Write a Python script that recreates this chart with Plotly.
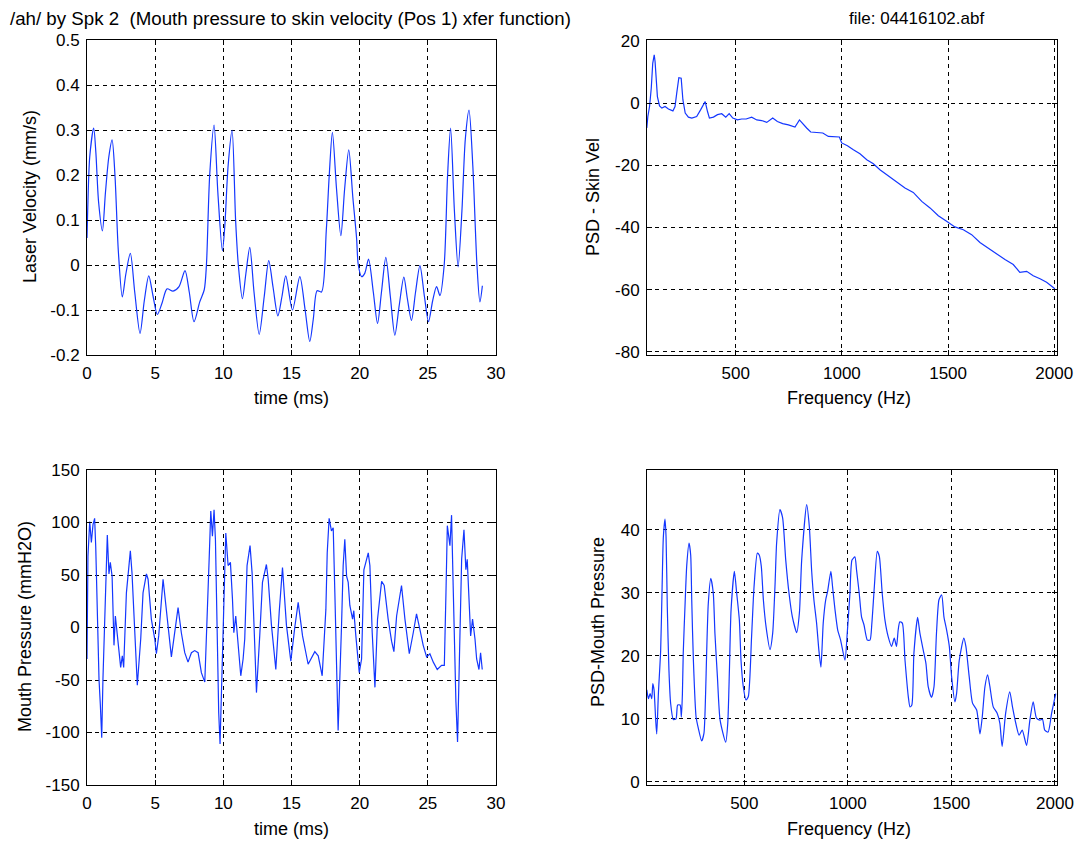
import plotly.graph_objects as go

# ---- Laser velocity vs time (top-left) ----
vel_time_ms = [0.00, 0.05, 0.20, 0.49, 0.65, 0.85, 1.13, 1.35, 1.60, 1.84, 2.05, 2.30, 2.59, 2.85,
               3.18, 3.50, 3.89, 4.20, 4.53, 4.85, 5.16, 5.50, 5.87, 6.31, 6.75, 7.19, 7.50, 7.85,
               8.27, 8.60, 8.76, 9.00, 9.32, 9.60, 9.93, 10.10, 10.35, 10.64, 10.90, 11.10, 11.40,
               11.65, 11.94, 12.25, 12.63, 13.00, 13.33, 13.65, 14.00, 14.30, 14.58, 15.07, 15.61,
               16.00, 16.34, 16.60, 16.88, 17.20, 17.55, 17.77, 18.00, 18.30, 18.62, 18.90, 19.20,
               19.50, 19.77, 19.90, 20.14, 20.38, 20.65, 21.00, 21.31, 21.60, 21.92, 22.25, 22.58,
               22.90, 23.24, 23.50, 23.80, 24.10, 24.42, 24.75, 25.05, 25.35, 25.64, 25.89, 26.20,
               26.45, 26.67, 26.95, 27.22, 27.50, 27.75, 28.02, 28.30, 28.60, 28.82, 29.00]
vel_mm_s = [0.06, 0.12, 0.24, 0.304, 0.25, 0.14, 0.076, 0.16, 0.24, 0.278, 0.20, 0.03, -0.071, -0.02,
            0.026, -0.06, -0.152, -0.08, -0.024, -0.07, -0.11, -0.085, -0.053, -0.058, -0.048, -0.0125,
            -0.06, -0.126, -0.082, -0.055, 0.0, 0.20, 0.311, 0.16, 0.032, 0.083, 0.22, 0.299, 0.10,
            0.00, -0.075, -0.02, 0.039, -0.06, -0.154, -0.07, 0.0096, -0.05, -0.113, -0.07, -0.024,
            -0.10, -0.026, -0.10, -0.17, -0.12, -0.057, -0.06, 0.076, 0.20, 0.295, 0.17, 0.065, 0.17,
            0.256, 0.15, 0.061, 0.0, -0.026, -0.018, 0.013, -0.06, -0.13, -0.06, 0.017, -0.07, -0.156,
            -0.09, -0.027, -0.075, -0.123, -0.06, -0.0015, -0.07, -0.126, -0.08, -0.048, -0.068, 0.00,
            0.20, 0.304, 0.12, -0.004, 0.12, 0.28, 0.344, 0.22, 0.002, -0.082, -0.046]

# ---- Skin velocity PSD (top-right) ----
skin_freq_hz = [81, 86, 94, 102, 109, 116, 120, 125, 131, 141, 152, 167, 183, 204, 214, 222, 232, 243,
                251, 262, 277, 293, 316, 335, 356, 367, 376, 395, 414, 434, 453, 469, 486, 508, 528,
                549, 575, 599, 622, 646, 674, 696, 721, 748, 779, 800, 819, 834, 853, 881, 910, 936,
                960, 988, 999, 1026, 1054, 1085, 1117, 1148, 1179, 1219, 1258, 1297, 1336, 1376, 1415,
                1454, 1493, 1532, 1572, 1611, 1650, 1689, 1729, 1768, 1807, 1838, 1870, 1901, 1933,
                1964, 2003]
skin_psd_db = [-8.0, -4.3, -1.1, 4.8, 12.8, 15.5, 13.4, 7.5, 2.1, -0.9, -1.6, -1.1, -1.9, -2.5, -1.1,
               3.2, 8.2, 8.0, 1.1, -3.2, -4.5, -4.8, -4.3, -2.1, 0.5, -2.7, -4.8, -4.5, -3.7, -3.4,
               -4.5, -3.4, -4.8, -5.4, -5.1, -5.1, -4.5, -5.4, -5.6, -6.2, -4.8, -5.9, -6.6, -7.0, -7.7,
               -5.4, -7.0, -8.0, -9.3, -9.4, -9.6, -10.7, -10.9, -10.9, -12.8, -13.7, -15.0, -16.3,
               -18.2, -19.5, -21.4, -23.3, -25.2, -27.3, -28.7, -31.6, -33.7, -36.2, -38.0, -39.8,
               -40.7, -42.3, -44.8, -46.6, -48.7, -50.3, -51.9, -54.4, -54.1, -55.5, -56.5, -57.6, -59.7]

# ---- Mouth pressure vs time (bottom-left) ----
press_time_ms = [0.00, 0.07, 0.20, 0.32, 0.44, 0.56, 0.64, 0.73, 0.88, 0.98, 1.08, 1.17, 1.25, 1.35,
                 1.49, 1.61, 1.71, 1.84, 1.91, 1.98, 2.08, 2.20, 2.35, 2.47, 2.59, 2.69, 2.89, 3.18,
                 3.30, 3.45, 3.69, 3.94, 4.11, 4.36, 4.48, 4.72, 4.97, 5.09, 5.26, 5.58, 5.87, 6.19,
                 6.68, 6.92, 7.17, 7.41, 7.66, 7.90, 8.15, 8.39, 8.64, 8.81, 8.96, 9.08, 9.20, 9.32,
                 9.42, 9.54, 9.66, 9.76, 9.91, 10.03, 10.18, 10.35, 10.52, 10.67, 10.77, 10.91, 11.08,
                 11.28, 11.45, 11.57, 11.74, 11.96, 12.11, 12.23, 12.43, 12.67, 12.87, 13.16, 13.29,
                 13.53, 13.85, 14.10, 14.34, 14.63, 14.95, 15.24, 15.49, 15.81, 16.22, 16.71, 16.96,
                 17.25, 17.52, 17.62, 17.76, 17.93, 18.06, 18.18, 18.30, 18.42, 18.67, 18.79, 18.91,
                 19.04, 19.16, 19.28, 19.48, 19.57, 19.72, 19.97, 20.14, 20.31, 20.63, 20.75, 20.92,
                 21.12, 21.31, 21.61, 21.80, 22.09, 22.34, 22.51, 22.71, 23.07, 23.32, 23.64, 23.93,
                 24.17, 24.42, 24.66, 24.91, 25.15, 25.40, 25.69, 26.01, 26.21, 26.33, 26.43, 26.62,
                 26.74, 26.87, 26.99, 27.06, 27.18, 27.36, 27.48, 27.65, 27.79, 27.89, 27.99, 28.14,
                 28.28, 28.46, 28.58, 28.75, 28.87, 28.99]
press_mmh2o = [-30, 68, 101, 81, 98, 104, 77, 27, -49, -74, -105, -49, -8, 43, 88, 51, 62, 49, 14, -17,
               11, -6, -24, -38, -27, -38, 33, 73, 52, 11, -55, -11, 33, 51, 46, 8, -11, -25, -8, 46, 8,
               -28, 19, -5, -24, -33, -24, -22, -24, -43, -52, 2, 65, 111, 87, 112, 84, 2, -81, -111,
               -43, 33, 90, 59, 62, 27, -5, 11, -17, -46, -30, -11, 59, 78, 52, 2, -62, -8, 43, 60, 46,
               2, -40, 15, 57, 2, -32, 0, 24, -8, -35, -23, -27, -46, 17, 71, 104, 92, 95, 33, -46, -98,
               2, 59, 84, 49, 43, 21, 8, 16, -8, -43, -30, 55, 71, 59, -5, -57, 8, 44, 40, 8, -13, -23,
               11, 40, 8, -25, -5, 13, -2, -17, -28, -25, -33, -40, -36, -36, 33, 97, 78, 107, 33, -46,
               -71, -109, 2, 65, 93, 55, 65, 33, -8, 8, -11, -30, -40, -24, -40]

# ---- Mouth pressure PSD (bottom-right) ----
mouth_freq_hz = [29, 37, 45, 53, 58, 64, 72, 77, 85, 96, 103, 109, 117, 122, 128, 136, 144, 157, 170,
                 178, 190, 196, 201, 205, 214, 222, 233, 241, 246, 254, 267, 278, 294, 305, 313, 318,
                 326, 338, 350, 358, 370, 383, 410, 420, 428, 436, 452, 463, 476, 484, 495, 508, 519,
                 535, 547, 563, 572, 582, 592, 605, 624, 637, 648, 656, 672, 685, 700, 716, 732, 753,
                 766, 777, 801, 814, 825, 836, 849, 860, 870, 881, 893, 902, 918, 926, 938, 951, 965,
                 986, 997, 1010, 1020, 1034, 1042, 1055, 1066, 1078, 1094, 1107, 1116, 1128, 1142, 1152,
                 1166, 1179, 1195, 1211, 1224, 1235, 1243, 1251, 1263, 1276, 1292, 1300, 1309, 1319,
                 1337, 1348, 1364, 1377, 1388, 1404, 1416, 1428, 1440, 1453, 1464, 1477, 1490, 1501,
                 1517, 1525, 1538, 1560, 1570, 1586, 1602, 1622, 1638, 1649, 1662, 1675, 1686, 1702,
                 1721, 1734, 1745, 1762, 1782, 1795, 1811, 1827, 1842, 1863, 1879, 1895, 1911, 1927,
                 1940, 1951, 1967, 1984, 2004]
mouth_psd_db = [14.6, 13.2, 14.0, 13.2, 15.6, 14.6, 9.8, 7.6, 14.0, 20.9, 31.0, 38.9, 41.7, 38.9, 27.8,
                17.7, 12.5, 9.9, 10.0, 12.2, 12.2, 10.3, 14.0, 20.4, 28.3, 34.4, 37.9, 36.0, 28.9, 19.3,
                10.3, 8.5, 6.5, 7.7, 14.0, 20.4, 28.3, 32.3, 30.0, 23.6, 16.7, 9.8, 6.3, 9.3, 17.7, 27.3,
                33.4, 30.0, 25.7, 19.3, 15.1, 13.0, 13.5, 23.0, 31.0, 36.3, 36.0, 34.2, 28.9, 24.6, 21.0,
                23.6, 31.0, 37.9, 43.2, 41.9, 35.2, 29.9, 26.2, 23.7, 26.8, 35.2, 44.0, 40.5, 33.6, 28.9,
                25.2, 20.9, 18.2, 25.2, 28.9, 30.2, 33.4, 31.0, 27.3, 24.1, 22.5, 19.3, 23.6, 29.9, 35.2,
                35.7, 33.6, 29.9, 26.2, 24.9, 22.5, 22.5, 25.2, 31.0, 36.6, 35.8, 29.9, 25.7, 23.0, 21.5,
                22.8, 21.5, 24.1, 25.4, 25.2, 19.3, 13.5, 11.9, 12.2, 20.4, 26.1, 23.6, 20.9, 18.8, 15.1,
                13.4, 15.1, 23.6, 28.9, 29.7, 26.2, 24.1, 21.5, 16.7, 12.7, 14.0, 19.3, 22.8, 21.5, 16.7,
                12.5, 11.4, 7.6, 10.3, 15.1, 17.0, 15.1, 11.9, 10.9, 9.3, 5.6, 10.9, 14.3, 11.9, 9.3,
                7.4, 8.2, 5.8, 9.8, 12.7, 10.1, 9.8, 9.9, 8.2, 7.9, 10.9, 14.0]

# ---- Axis ticks ----
time_ticks = [0, 5, 10, 15, 20, 25, 30]
time_tick_text = ["0", "5", "10", "15", "20", "25", "30"]
vel_ticks = [-0.2, -0.1, 0, 0.1, 0.2, 0.3, 0.4, 0.5]
vel_tick_text = ["-0.2", "-0.1", "0", "0.1", "0.2", "0.3", "0.4", "0.5"]
freq_ticks = [500, 1000, 1500, 2000]
freq_tick_text = ["500", "1000", "1500", "2000"]
skin_ticks = [-80, -60, -40, -20, 0, 20]
skin_tick_text = ["-80", "-60", "-40", "-20", "0", "20"]
press_ticks = [-150, -100, -50, 0, 50, 100, 150]
press_tick_text = ["-150", "-100", "-50", "0", "50", "100", "150"]
mouth_ticks = [0, 10, 20, 30, 40]
mouth_tick_text = ["0", "10", "20", "30", "40"]

W, H = 1078, 844
FONT = "Liberation Sans, Arial, sans-serif"
LINE_BLUE = "rgb(20,55,255)"


def px_x(p):
    return p / W


def px_y(p):
    return 1 - p / H


def axis_style(tickvals, ticktext, rng, domain, anchor):
    return dict(
        domain=domain, anchor=anchor, range=rng, automargin=False,
        tickmode="array", tickvals=tickvals, ticktext=ticktext,
        showline=True, linecolor="black", linewidth=1, mirror="ticks",
        ticks="inside", ticklen=5, tickcolor="black", ticklabelstandoff=3,
        showgrid=True, gridcolor="black", gridwidth=1, griddash="4px,4px",
        zeroline=False,
        tickfont=dict(family=FONT, size=17, color="black"),
    )


left_dom = [px_x(87), px_x(496)]
right_dom = [px_x(647), px_x(1057)]
top_dom = [px_y(355), px_y(40)]
bot_dom = [px_y(785), px_y(470)]

fig = go.Figure()
fig.add_trace(go.Scatter(x=vel_time_ms, y=vel_mm_s, mode="lines", xaxis="x", yaxis="y",
                         line=dict(color=LINE_BLUE, width=1.2, shape="spline", smoothing=0.8)))
fig.add_trace(go.Scatter(x=skin_freq_hz, y=skin_psd_db, mode="lines", xaxis="x2", yaxis="y2",
                         line=dict(color=LINE_BLUE, width=1.2)))
fig.add_trace(go.Scatter(x=press_time_ms, y=press_mmh2o, mode="lines", xaxis="x3", yaxis="y3",
                         line=dict(color=LINE_BLUE, width=1.2)))
fig.add_trace(go.Scatter(x=mouth_freq_hz, y=mouth_psd_db, mode="lines", xaxis="x4", yaxis="y4",
                         line=dict(color=LINE_BLUE, width=1.2, shape="spline", smoothing=0.6)))

fig.update_layout(
    width=W, height=H,
    margin=dict(l=0, r=0, t=0, b=0, autoexpand=False),
    paper_bgcolor="white", plot_bgcolor="white",
    showlegend=False,
    xaxis=axis_style(time_ticks, time_tick_text, [0, 30], left_dom, "y"),
    yaxis=axis_style(vel_ticks, vel_tick_text, [-0.2, 0.5], top_dom, "x"),
    xaxis2=axis_style(freq_ticks, freq_tick_text, [82, 2013], right_dom, "y2"),
    yaxis2=axis_style(skin_ticks, skin_tick_text, [-81, 20.3], top_dom, "x2"),
    xaxis3=axis_style(time_ticks, time_tick_text, [0, 30], left_dom, "y3"),
    yaxis3=axis_style(press_ticks, press_tick_text, [-150, 150], bot_dom, "x3"),
    xaxis4=axis_style(freq_ticks, freq_tick_text, [30, 2010], right_dom, "y4"),
    yaxis4=axis_style(mouth_ticks, mouth_tick_text, [-0.5, 49.5], bot_dom, "x4"),
)

notes = [
    ("/ah/ by Spk 2  (Mouth pressure to skin velocity (Pos 1) xfer function)", 8, 18, 0, "left", 18.7),
    ("file: 04416102.abf", 916, 18, 0, "center", 17),
    ("time (ms)", 291, 398, 0, "center", 18),
    ("Frequency (Hz)", 849, 398, 0, "center", 18),
    ("time (ms)", 291, 829, 0, "center", 18),
    ("Frequency (Hz)", 849, 829, 0, "center", 18),
    ("Laser Velocity (mm/s)", 30, 197, -90, "center", 18),
    ("PSD - Skin Vel", 593, 197, -90, "center", 18),
    ("Mouth Pressure (mmH2O)", 25, 627, -90, "center", 18),
    ("PSD-Mouth Pressure", 598, 622, -90, "center", 18),
]
for text, x, y, ang, anchor, size in notes:
    fig.add_annotation(text=text, x=px_x(x), y=px_y(y), xref="paper", yref="paper",
                       xanchor=anchor, yanchor="middle", textangle=ang,
                       showarrow=False, font=dict(family=FONT, size=size, color="black"))

fig.write_html("out.html")
